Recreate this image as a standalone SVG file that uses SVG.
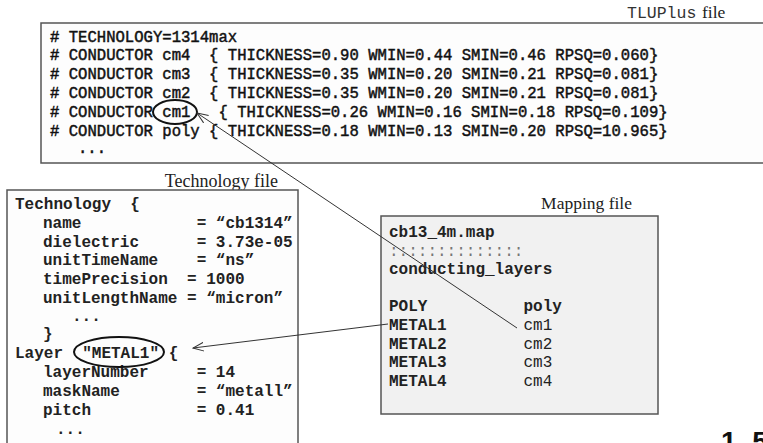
<svg xmlns="http://www.w3.org/2000/svg" width="763" height="443" viewBox="0 0 763 443">
<style>
.box{fill:#fdfdfd;stroke:#555;stroke-width:1.5}
.map{fill:#f1f1f1;stroke:#555;stroke-width:1.5}
.tlu{font-family:"Liberation Mono","Courier New",monospace;font-size:15.6px;fill:#111;stroke:#111;stroke-width:0.45;white-space:pre}
.code{font-family:"Liberation Mono","Courier New",monospace;font-size:16px;font-weight:bold;fill:#222;white-space:pre}
.lbl{font-family:"Liberation Serif","Times New Roman",serif;font-size:17.5px;fill:#222}
.mono{font-family:"Liberation Mono","Courier New",monospace;font-size:16.5px;fill:#333}
.conn{fill:none;stroke:#333;stroke-width:1}
.ring{fill:none;stroke:#111;stroke-width:2}
</style>
<defs>
<marker id="open" viewBox="0 0 12 12" refX="11" refY="6" markerWidth="12" markerHeight="12" markerUnits="userSpaceOnUse" orient="auto">
<path d="M0,1.5 L11,6 L0,10.5" fill="none" stroke="#333" stroke-width="1"/>
</marker>
</defs>
<rect width="763" height="443" fill="#ffffff"/>

<g id="tluplus">
<text x="627" y="18"><tspan class="mono">TLUPlus</tspan><tspan class="lbl" x="702">file</tspan></text>
<rect class="box" x="41" y="23" width="740" height="140"/>
<text class="tlu" x="50" y="41.5"># TECHNOLOGY=1314max</text>
<text class="tlu" x="50" y="60.3"># CONDUCTOR cm4  { THICKNESS=0.90 WMIN=0.44 SMIN=0.46 RPSQ=0.060}</text>
<text class="tlu" x="50" y="79.1"># CONDUCTOR cm3  { THICKNESS=0.35 WMIN=0.20 SMIN=0.21 RPSQ=0.081}</text>
<text class="tlu" x="50" y="97.9"># CONDUCTOR cm2  { THICKNESS=0.35 WMIN=0.20 SMIN=0.21 RPSQ=0.081}</text>
<text class="tlu" x="50" y="116.7"># CONDUCTOR cm1   { THICKNESS=0.26 WMIN=0.16 SMIN=0.18 RPSQ=0.109}</text>
<text class="tlu" x="50" y="135.5"># CONDUCTOR poly { THICKNESS=0.18 WMIN=0.13 SMIN=0.20 RPSQ=10.965}</text>
<text class="tlu" x="78" y="153">...</text>
<ellipse class="ring" cx="175" cy="112" rx="22" ry="12"/>
</g>

<g id="technology">
<text class="lbl" x="278" y="187" text-anchor="end" style="font-size:18px">Technology file</text>
<rect class="box" x="7" y="190" width="291" height="270"/>
<text class="code" x="15" y="209">Technology  {</text>
<text class="code" x="43" y="228">name            = “cb1314”</text>
<text class="code" x="43" y="247">dielectric      = 3.73e-05</text>
<text class="code" x="43" y="265">unitTimeName    = “ns”</text>
<text class="code" x="43" y="284">timePrecision  = 1000</text>
<text class="code" x="43" y="303">unitLengthName = “micron”</text>
<text class="code" x="72" y="321">...</text>
<text class="code" x="43" y="339">}</text>
<text class="code" x="15" y="358">Layer  "METAL1" {</text>
<text class="code" x="43" y="377">layerNumber     = 14</text>
<text class="code" x="43" y="396">maskName        = “metall”</text>
<text class="code" x="43" y="415">pitch           = 0.41</text>
<text class="code" x="56" y="434">...</text>
<ellipse class="ring" cx="119" cy="352" rx="45" ry="15"/>
</g>

<g id="mapping">
<text class="lbl" x="632" y="209" text-anchor="end">Mapping file</text>
<rect class="map" x="381" y="216" width="277" height="198"/>
<text class="code" x="389" y="237">cb13_4m.map</text>
<text class="code" x="389" y="255.6" style="fill:#777;font-weight:normal">::::::::::::::</text>
<text class="code" x="389" y="274.2">conducting_layers</text>
<text class="code" x="389" y="311.4">POLY          poly</text>
<text class="code" x="389" y="330">METAL1        <tspan style="font-weight:normal">cm1</tspan></text>
<text class="code" x="389" y="348.6">METAL2        <tspan style="font-weight:normal">cm2</tspan></text>
<text class="code" x="389" y="367.2">METAL3        <tspan style="font-weight:normal">cm3</tspan></text>
<text class="code" x="389" y="385.8">METAL4        <tspan style="font-weight:normal">cm4</tspan></text>
</g>

<g id="connectors">
<line class="conn" x1="517" y1="328" x2="197" y2="113" marker-end="url(#open)"/>
<line class="conn" x1="388" y1="324" x2="193" y2="348" marker-end="url(#open)"/>
</g>

<text x="721" y="451" style="font-family:'Liberation Sans',Arial,sans-serif;font-size:28px;font-weight:bold;letter-spacing:4px;fill:#111">1.5</text>
</svg>
